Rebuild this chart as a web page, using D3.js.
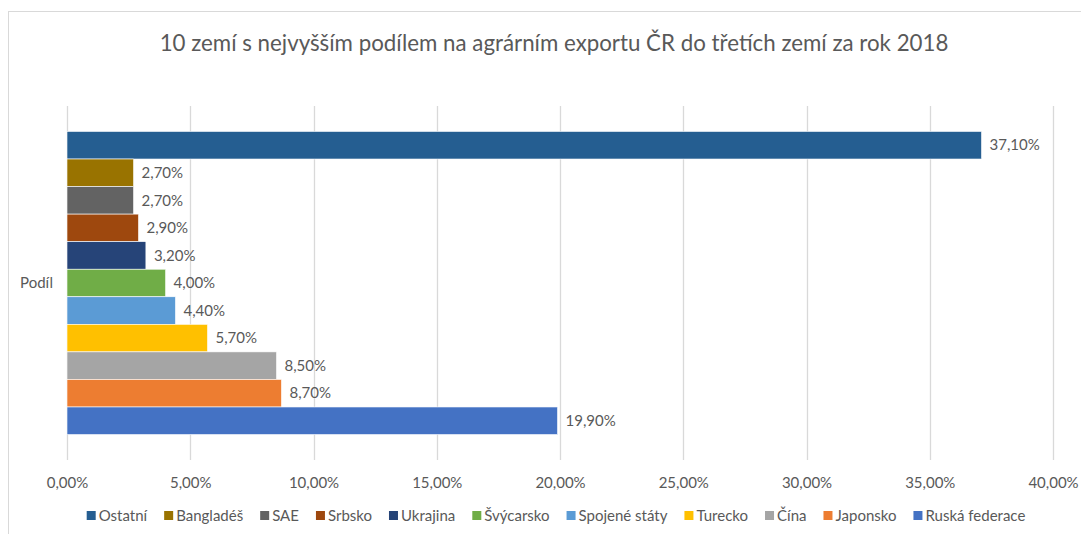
<!DOCTYPE html>
<html>
<head>
<meta charset="utf-8">
<script src="https://cdn.jsdelivr.net/npm/d3@7"></script>
<style>
  body { margin: 0; background: #fff; }
  svg { display: block; font-family: Lato, "Open Sans", sans-serif; }
</style>
</head>
<body>
<svg id="chart" width="1081" height="534"></svg>
<script>
// data, top to bottom as drawn
var countries = ['Ostatní', 'Bangladéš', 'SAE', 'Srbsko', 'Ukrajina', 'Švýcarsko',
                 'Spojené státy', 'Turecko', 'Čína', 'Japonsko', 'Ruská federace'];
var shares = [37.1, 2.7, 2.7, 2.9, 3.2, 4.0, 4.4, 5.7, 8.5, 8.7, 19.9];
var colors = ['#255E91', '#997300', '#636363', '#9E480E', '#264478', '#70AD47',
              '#5B9BD5', '#FFC000', '#A5A5A5', '#ED7D31', '#4472C4'];
var categories = ['Podíl'];
var xTicks = [0, 5, 10, 15, 20, 25, 30, 35, 40];
var title = '10 zemí s nejvyšším podílem na agrárním exportu ČR do třetích zemí za rok 2018';

var svg = d3.select('#chart'),
    textColor = '#595959',
    gridColor = '#D9D9D9',
    plot = { left: 67, right: 1053, top: 106, bottom: 460 };

//format like excel with decimal comma
var fmt = function (v) { return v.toFixed(2).replace('.', ',') + '%'; };

//chart frame
svg.append('rect')
    .attr('x', 8.5).attr('y', 11.5)
    .attr('width', 1100).attr('height', 600)
    .attr('fill', 'none')
    .attr('stroke', gridColor);

//title
svg.append('text')
    .attr('x', 554).attr('y', 51)
    .attr('text-anchor', 'middle')
    .attr('font-size', 22.3)
    .attr('fill', textColor)
    .text(title);

//scales
var x = d3.scaleLinear().domain([0, 40]).range([plot.left, plot.right]);
var yCat = d3.scaleBand().domain(categories).range([plot.top, plot.bottom])
    .paddingInner(0).paddingOuter(0.084);
var ySer = d3.scaleBand().domain(countries).range([0, yCat.bandwidth()]);

//gridlines
svg.append('g').selectAll('line')
    .data(xTicks)
    .enter()
    .append('line')
    .attr('x1', function (d) { return Math.round(x(d)) + 0.5; })
    .attr('x2', function (d) { return Math.round(x(d)) + 0.5; })
    .attr('y1', plot.top)
    .attr('y2', plot.bottom)
    .attr('stroke', gridColor)
    .attr('stroke-width', 1.3);

//x axis labels
var xAxis = d3.axisBottom(x).tickValues(xTicks).tickFormat(fmt).tickSize(0).tickPadding(0);
var axisG = svg.append('g')
    .attr('transform', 'translate(0,' + (plot.bottom + 17) + ')')
    .call(xAxis);
axisG.select('.domain').remove();
axisG.selectAll('text')
    .attr('font-family', 'Lato, "Open Sans", sans-serif')
    .attr('font-size', 15)
    .attr('fill', textColor);

//category label
svg.append('text')
    .attr('x', 53)
    .attr('y', yCat('Podíl') + yCat.bandwidth() / 2)
    .attr('dy', '0.35em')
    .attr('text-anchor', 'end')
    .attr('font-size', 15)
    .attr('fill', textColor)
    .text('Podíl');

//bars
var barG = svg.append('g')
    .attr('transform', 'translate(0,' + yCat('Podíl') + ')');

barG.selectAll('rect')
    .data(countries)
    .enter()
    .append('rect')
    .attr('x', x(0))
    .attr('y', function (d) { return ySer(d); })
    .attr('width', function (d, i) { return x(shares[i]) - x(0); })
    .attr('height', ySer.bandwidth())
    .attr('fill', function (d, i) { return colors[i]; })
    .attr('stroke', '#fff')
    .attr('stroke-width', 0.6);

//data labels
barG.selectAll('text')
    .data(countries)
    .enter()
    .append('text')
    .attr('x', function (d, i) { return x(shares[i]) + 8; })
    .attr('y', function (d) { return ySer(d) + ySer.bandwidth() / 2; })
    .attr('dy', '0.35em')
    .attr('font-size', 15)
    .attr('fill', textColor)
    .text(function (d, i) { return fmt(shares[i]); });

//legend, laid out from measured text widths and centred
var legend = svg.append('g');
var items = legend.selectAll('g')
    .data(countries)
    .enter()
    .append('g');

items.append('rect')
    .attr('width', 9).attr('height', 9)
    .attr('y', -10)
    .attr('fill', function (d, i) { return colors[i]; });

items.append('text')
    .attr('x', 12)
    .attr('font-size', 15)
    .attr('fill', textColor)
    .text(function (d) { return d; });

var cursor = 0;
items.each(function () {
    var w = this.querySelector('text').getComputedTextLength();
    d3.select(this).attr('transform', 'translate(' + cursor + ',0)');
    cursor += 12 + w + 17;
});
var legendWidth = cursor - 17;
legend.attr('transform', 'translate(' + (556 - legendWidth / 2) + ',521)');
</script>
</body>
</html>
